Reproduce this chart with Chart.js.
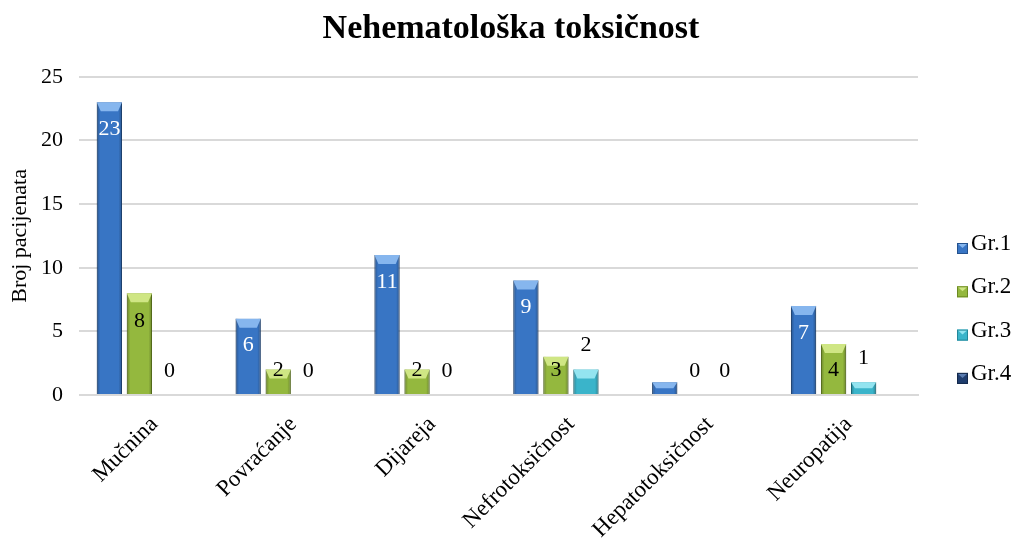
<!DOCTYPE html>
<html><head><meta charset="utf-8">
<script src="https://cdn.jsdelivr.net/npm/chart.js@4/dist/chart.umd.min.js"></script>
<style>html,body{margin:0;padding:0;background:#fff}#w{width:1022px;height:539px}</style>
</head><body><div id="w"><canvas id="c"></canvas></div>
<script>
const categories = ['Mučnina','Povraćanje','Dijareja','Nefrotoksičnost','Hepatotoksičnost','Neuropatija'];
const seriesNames = ['Gr.1','Gr.2','Gr.3','Gr.4'];
const gr1 = [23, 6, 11, 9, 1, 7];
const gr2 = [8, 2, 2, 3, 0, 4];
const gr3 = [0, 0, 0, 2, 0, 1];
const gr4 = [null, null, null, null, null, null];
const gr1Labels = [true, true, true, true, false, true];
const yTicks = [0, 5, 10, 15, 20, 25];
const titleText = 'Nehematološka toksičnost';

const colors = ['#3875c4', '#94b83e', '#3ab4ca', '#1f3d6e'];
const edges = ['#24528e', '#6c8a22', '#22879a', '#13284a'];
const tops = ['#86b6ee', '#cfe684', '#93e4f0', '#5a7cb0'];

const FONT = "'Liberation Serif', 'Times New Roman', serif";

const labelPlugin = {
  id: 'labels',
  afterDatasetsDraw(chart) {
    const ctx = chart.ctx;
    ctx.save();
    ctx.font = '22px ' + FONT;
    ctx.textAlign = 'center';
    ctx.textBaseline = 'middle';
    chart.data.datasets.forEach((ds, di) => {
      const meta = chart.getDatasetMeta(di);
      meta.data.forEach((bar, i) => {
        const v = ds.data[i];
        if (v === null || v === undefined) return;
        const top = bar.y, bottom = bar.base;
        if (di === 0) {
          if (!gr1Labels[i]) return;
          ctx.fillStyle = '#ffffff';
          ctx.fillText(String(v), bar.x, Math.min(top + 27, bottom - 24));
        } else if (di === 1) {
          ctx.fillStyle = '#000';
          ctx.fillText(String(v), bar.x, Math.min(top + 28, bottom - 24));
        } else if (di === 2) {
          ctx.fillStyle = '#000';
          ctx.fillText(String(v), bar.x, top - 24);
        }
      });
    });
    ctx.restore();
  }
};

const bevelPlugin = {
  id: 'bevel',
  afterDatasetsDraw(chart) {
    const ctx = chart.ctx;
    ctx.save();
    chart.data.datasets.forEach((ds, di) => {
      const meta = chart.getDatasetMeta(di);
      meta.data.forEach((bar, i) => {
        const v = ds.data[i];
        if (!v) return;
        const w = bar.width, x0 = bar.x - w / 2, x1 = bar.x + w / 2;
        const top = bar.y, bottom = bar.base;
        const h = Math.min(9, (bottom - top) / 2);
        const g = ctx.createLinearGradient(x0, 0, x1, 0);
        g.addColorStop(0, 'rgba(0,0,0,0.28)');
        g.addColorStop(0.14, 'rgba(0,0,0,0)');
        g.addColorStop(0.86, 'rgba(0,0,0,0)');
        g.addColorStop(1, 'rgba(0,0,0,0.28)');
        ctx.fillStyle = g;
        ctx.fillRect(x0, top, w, bottom - top);
        ctx.beginPath();
        ctx.moveTo(x0, top);
        ctx.lineTo(x1, top);
        ctx.lineTo(x1 - 4, top + h);
        ctx.lineTo(x0 + 4, top + h);
        ctx.closePath();
        ctx.fillStyle = tops[di];
        ctx.fill();
      });
    });
    ctx.restore();
  }
};

const overlayPlugin = {
  id: 'overlay',
  afterDraw(chart) {
    const ctx = chart.ctx;
    ctx.save();
    // title centred over the whole canvas
    ctx.font = 'bold 34px ' + FONT;
    ctx.textAlign = 'center';
    ctx.textBaseline = 'middle';
    ctx.fillStyle = '#000';
    ctx.fillText(titleText, chart.width / 2, 29);
    // legend
    ctx.font = '23px ' + FONT;
    ctx.textAlign = 'left';
    ctx.textBaseline = 'alphabetic';
    seriesNames.forEach((name, i) => {
      const base = 250 + i * 43.3;
      ctx.fillStyle = colors[i];
      ctx.fillRect(957, base - 7, 11, 11);
      ctx.fillStyle = tops[i];
      ctx.beginPath();
      ctx.moveTo(957, base - 7); ctx.lineTo(968, base - 7); ctx.lineTo(962.5, base - 2); ctx.closePath();
      ctx.fill();
      ctx.strokeStyle = edges[i];
      ctx.lineWidth = 1;
      ctx.strokeRect(957.5, base - 6.5, 10, 10);
      ctx.fillStyle = '#000';
      ctx.fillText(name, 971, base);
    });
    ctx.restore();
  }
};

new Chart(document.getElementById('c'), {
  type: 'bar',
  data: {
    labels: categories,
    datasets: [gr1, gr2, gr3, gr4].map((d, i) => ({
      label: seriesNames[i],
      data: d,
      backgroundColor: colors[i],
      borderColor: edges[i],
      borderWidth: 1,
      categoryPercentage: 0.865,
      barPercentage: 0.84
    }))
  },
  plugins: [bevelPlugin, labelPlugin, overlayPlugin],
  options: {
    responsive: true,
    maintainAspectRatio: false,
    animation: false,
    layout: { padding: { top: 0, right: 104, left: 0, bottom: 0 } },
    plugins: {
      title: {
        display: true,
        text: titleText,
        font: { family: FONT, size: 34, weight: 'bold' },
        color: 'rgba(0,0,0,0)',
        padding: { top: 8, bottom: 28 }
      },
      legend: { display: false },
      tooltip: { enabled: false }
    },
    scales: {
      x: {
        afterFit(axis) { axis.height = 144; },
        grid: { display: false, drawTicks: false },
        border: { display: true, color: '#d9d9d9', width: 2 },
        ticks: { font: { family: FONT, size: 23 }, color: '#000', minRotation: 45, maxRotation: 45, padding: 16, autoSkip: false }
      },
      y: {
        min: 0, max: 25,
        afterFit(axis) { axis.width = 85; },
        afterBuildTicks(axis) { axis.ticks = yTicks.map(v => ({ value: v })); },
        grid: { color: '#d9d9d9', lineWidth: 2, tickLength: 6 },
        border: { display: false },
        ticks: { font: { family: FONT, size: 22 }, color: '#000', padding: 16 },
        title: { display: true, text: 'Broj pacijenata', font: { family: FONT, size: 22 }, color: '#000', padding: 7 }
      }
    }
  }
});
</script></body></html>
